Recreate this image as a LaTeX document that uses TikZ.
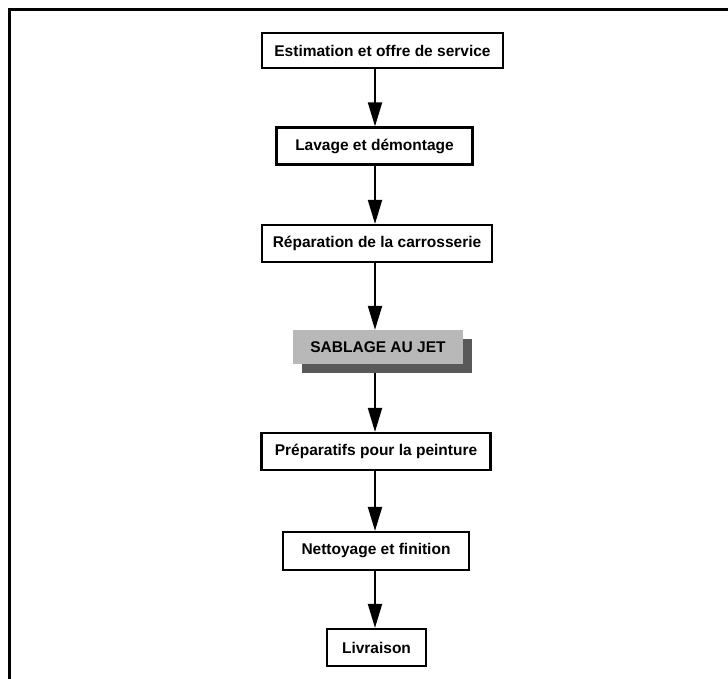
\documentclass[tikz,border=0pt]{standalone}
\usepackage{fontspec}
\setmainfont{Liberation Sans}
\usetikzlibrary{arrows.meta}
\begin{document}
\begin{tikzpicture}[x=1pt,y=-1pt,
  stepbox/.style={draw=black,line width=2.2pt,fill=white,inner sep=0pt,align=center,
    font=\bfseries\fontsize{15.5}{17}\selectfont},
  arr/.style={line width=2pt,-{Triangle[width=14pt,length=24pt]}}]
\useasboundingbox (0,0) rectangle (728,679);
\begin{scope}
\clip (0,0) rectangle (728,679);
\draw[line width=3pt] (9,10) rectangle (760,720);
\end{scope}
\coordinate (ax) at (375,0);
\node[stepbox,minimum width=241pt,minimum height=35pt] (b1) at (382.5,50.5) {Estimation et offre de service};
\node[stepbox,minimum width=196pt,minimum height=37pt] (b2) at (374.5,146) {Lavage et démontage};
\node[stepbox,minimum width=230pt,minimum height=37pt] (b3) at (377,243.5) {Réparation de la carrosserie};
\node[fill=black!65,inner sep=0pt,minimum width=170pt,minimum height=34pt] (s4) at (387,356) {};
\node[fill=black!28,inner sep=0pt,minimum width=170pt,minimum height=34pt,
  font=\bfseries\fontsize{15.5}{17}\selectfont] (b4) at (378,347) {SABLAGE AU JET};
\node[stepbox,minimum width=229pt,minimum height=37pt] (b5) at (376,451.5) {Préparatifs pour la peinture};
\node[stepbox,minimum width=186pt,minimum height=38pt] (b6) at (376,551) {Nettoyage et finition};
\node[stepbox,minimum width=99pt,minimum height=37pt] (b7) at (376.5,647.5) {Livraison};
\draw[arr] (b1.south -| ax) -- (b2.north -| ax);
\draw[arr] (b2.south -| ax) -- (b3.north -| ax);
\draw[arr] (b3.south -| ax) -- (b4.north -| ax);
\draw[arr] (s4.south -| ax) -- (b5.north -| ax);
\draw[arr] (b5.south -| ax) -- (b6.north -| ax);
\draw[arr] (b6.south -| ax) -- (b7.north -| ax);
\end{tikzpicture}
\end{document}
